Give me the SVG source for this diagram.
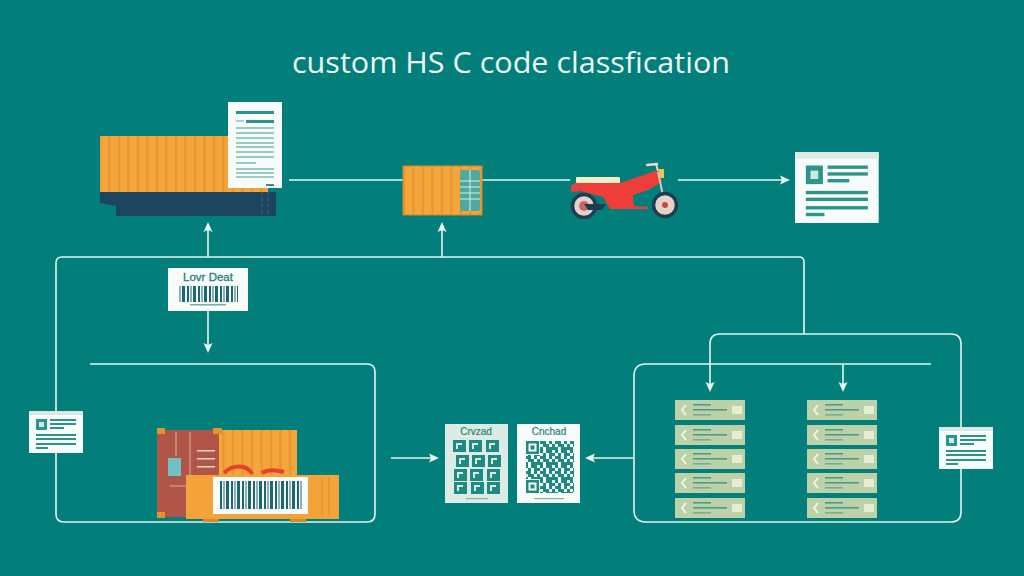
<svg xmlns="http://www.w3.org/2000/svg" width="1024" height="576" viewBox="0 0 1024 576">
<style>
.ln{fill:none;stroke:#e4f5f1;stroke-width:1.6}
.ar{fill:#e4f5f1}
.teal{fill:#2c9488}
.pale{fill:#a8d5cb}
.paper{fill:#f7fbfa}
.ttl{font-family:"Open Sans","Liberation Sans",sans-serif;font-size:30px;fill:#eef8f5}
.sm{font-family:"Liberation Sans",sans-serif;fill:#2a7f78}
.qr{fill:#1f8a82}
.corner{fill:#e2922c}
</style>
<defs>
<pattern id="ribs" width="9.500" height="10" patternUnits="userSpaceOnUse"><rect width="9.500" height="10" fill="#f5a53a"/><rect x="4" width="2" height="10" fill="#e39530"/></pattern>
<pattern id="bars" width="11" height="10" patternUnits="userSpaceOnUse"><rect x="0" width="2" height="10" fill="#1f6673"/><rect x="3.500" width="1" height="10" fill="#1f6673"/><rect x="6" width="3" height="10" fill="#1f6673"/></pattern>
<pattern id="noise" width="15" height="15" patternUnits="userSpaceOnUse">
<path class="qr" d="M0 0h3v3H0zM6 0h6v3H6zM3 3h3v3H3zM9 3h3v3H9zM12 3h3v3h-3zM0 6h6v3H0zM9 6h3v3H9zM3 9h3v3H3zM6 9h3v3H6zM12 9h3v3h-3zM0 12h3v3H0zM6 12h3v3H6zM9 12h6v3H9z"/>
</pattern>
<g id="row">
<rect width="70" height="20" fill="#bdd1a9"/>
<path d="M11 5L7 10L11 15" fill="none" stroke="#eef5e4" stroke-width="2"/>
<rect x="18" y="4" width="18" height="1.600" fill="#4c9c8c"/><rect x="18" y="9" width="34" height="1.600" fill="#4c9c8c"/><rect x="18" y="14" width="18" height="1.600" fill="#77ad99"/>
<rect x="57" y="6" width="10" height="8" fill="#e6edd2"/>
</g>
<g id="win">
<rect width="54" height="42" class="paper"/><rect width="54" height="4" fill="#dfe9e3"/>
<rect x="7" y="8" width="11" height="11" class="teal"/><rect x="10" y="11" width="5" height="5" fill="#cfe8e2"/>
<rect x="21" y="8" width="26" height="2" class="teal"/><rect x="21" y="12" width="26" height="2" class="teal"/><rect x="21" y="16" width="14" height="2" class="teal"/>
<rect x="7" y="23" width="40" height="2" class="teal"/><rect x="7" y="27" width="40" height="2" class="teal"/><rect x="7" y="32" width="40" height="2" class="teal"/><rect x="7" y="36" width="12" height="2" class="teal"/>
</g>
<g id="finder">
<rect x="-1" y="-1" width="15" height="15" fill="#f7fbfa"/>
<rect width="13" height="13" class="qr"/><rect x="2.500" y="2.500" width="8" height="8" fill="#f7fbfa"/><rect x="4.500" y="4.500" width="4" height="4" class="qr"/>
</g>
<g id="tile">
<rect width="13" height="12" class="qr"/><path d="M3 3H9V5H5V9H3Z" fill="#dcebe4"/>
</g>
</defs>
<rect width="1024" height="576" fill="#037f7b"/>
<text class="ttl" x="511" y="73" text-anchor="middle" textLength="438" lengthAdjust="spacingAndGlyphs">custom HS C code classfication</text>

<g id="connectors">
<path class="ln" d="M289 180H403M482 180H570M678 180H782"/>
<path class="ar" d="M790 180L780 175.500L782 180L780 184.500Z"/>
<path class="ln" d="M804 334V262Q804 257 799 257H62Q56 257 56 263V514Q56 522 64 522H367Q375 522 375 514V372Q375 364 367 364H90"/>
<path class="ln" d="M208 257V228M442 257V228M208 311V347"/>
<path class="ar" d="M208 222L203.500 232L208 230L212.500 232Z"/>
<path class="ar" d="M442 222L437.500 232L442 230L446.500 232Z"/>
<path class="ar" d="M208 353L203.500 343L208 345L212.500 343Z"/>
<path class="ln" d="M710 386V344Q710 334 720 334H951Q961 334 961 344V512Q961 522 951 522H646Q634 522 634 510V376Q634 364 646 364H931"/>
<path class="ln" d="M843 364V386"/>
<path class="ar" d="M710 392L705.500 382L710 384L714.500 382Z"/>
<path class="ar" d="M843 392L838.500 382L843 384L847.500 382Z"/>
<path class="ln" d="M391 458H433M633 458H591"/>
<path class="ar" d="M439 458L429 453.500L431 458L429 462.500Z"/>
<path class="ar" d="M585 458L595 453.500L593 458L595 462.500Z"/>
</g>

<g id="ship">
<path d="M100 192H276V216H116V206L100 203Z" fill="#1d4560"/>
<path d="M262 192V214M268 192V214" stroke="#3c6a78" stroke-width="1" stroke-dasharray="3 3"/>
<rect x="100" y="136" width="168" height="56" fill="url(#ribs)"/>
<rect x="228" y="102" width="54" height="86" class="paper"/>
<rect x="236" y="111" width="38" height="3" class="teal"/>
<rect x="246" y="120" width="28" height="3" class="teal"/><rect x="236" y="120" width="8" height="2" class="pale"/>
<path d="M236 128H274M236 133H274M236 138H274M236 143H274M236 147H274M236 152H274M236 157H274M236 163H256M236 169H274M236 173H274M236 177H274" stroke="#7bbcb1" stroke-width="1.500"/>
<rect x="266" y="184" width="8" height="2" class="teal"/>
</g>

<g id="container">
<rect x="403" y="166" width="79" height="49" fill="url(#ribs)" stroke="#d8892a" stroke-width="1"/>
<rect x="460" y="170" width="20" height="41" rx="3" fill="#4fa9a0"/>
<path d="M470 170V211M460 181H480M460 187H480M460 193H480M460 199H480" stroke="#d7efe6" stroke-width="1"/>
</g>

<g id="motorcycle">
<rect x="576" y="177" width="44" height="6" rx="1" fill="#f3eec6"/>
<path d="M571 186L575 183H620L658 170L662 182L648 190L633 195L634 206L648 207V209L610 209L603 197L580 191L571 192Z" fill="#ee3e3a"/>
<path d="M647 165L657 164" stroke="#e8dfc8" stroke-width="2.500" stroke-linecap="round"/>
<path d="M656 164L658 171" stroke="#e8dfc8" stroke-width="2"/>
<rect x="659" y="169" width="5" height="9" fill="#f3c04a"/>
<path d="M658 172L665 205" stroke="#c8c8c8" stroke-width="2"/>
<circle cx="584" cy="206" r="11.500" fill="#e5d2c8" stroke="#1d3d50" stroke-width="3.500"/>
<circle cx="584" cy="206" r="5" fill="#c8686a"/>
<path d="M584 204H606L602 210H588Z" fill="#1d3d50"/>
<circle cx="665" cy="205" r="11.500" fill="#e5d2c8" stroke="#1d3d50" stroke-width="3.500"/>
<circle cx="665" cy="205" r="3" fill="#c8484a"/>
</g>

<g id="document">
<use href="#win" transform="translate(795 152) scale(1.550 1.690)"/>
</g>

<g id="barcode-label">
<rect x="168" y="268" width="80" height="43" class="paper"/>
<text class="sm" x="208" y="281" text-anchor="middle" font-size="11.500" stroke="#2a7f78" stroke-width="0.300">Lovr Deat</text>
<rect x="178" y="286" width="60" height="16" fill="url(#bars)"/>
<rect x="190" y="304" width="36" height="1.500" fill="#79aca6"/>
</g>

<g id="doc-left"><use href="#win" x="29" y="411"/></g>
<g id="doc-right"><use href="#win" x="939" y="427"/></g>

<g id="containers">
<rect x="157" y="430" width="70" height="87" fill="#b05548"/>
<rect x="168" y="458" width="13" height="18" fill="#73c0c0"/>
<path d="M176 432V456M190 432V500M170 486H186" stroke="#d5b0a0" stroke-width="1"/>
<rect x="197" y="450" width="18" height="1.500" fill="#e8d6c4"/><rect x="197" y="458" width="18" height="1.500" fill="#e8d6c4"/><rect x="197" y="466" width="18" height="1.500" fill="#e8d6c4"/>
<rect x="219" y="430" width="78" height="45" fill="url(#ribs)"/>
<rect class="corner" x="157" y="428" width="8" height="6"/><rect class="corner" x="213" y="428" width="9" height="6"/><rect class="corner" x="157" y="512" width="8" height="6"/>
<path d="M224 473Q232 465 243 467Q250 469 252 474M262 473Q270 468 284 472" fill="none" stroke="#e8402f" stroke-width="4"/>
<rect x="186" y="475" width="153" height="44" fill="#f3a33a"/>
<rect x="203" y="519" width="16" height="3" fill="#d8892a"/><rect x="290" y="519" width="16" height="3" fill="#d8892a"/>
<rect x="213" y="477" width="95" height="37" class="paper"/>
<rect x="220" y="481" width="82" height="28" fill="url(#bars)"/>
<path d="M322 478V516M329 478V516" stroke="#e39530" stroke-width="1.500"/>
</g>

<g id="qr-cards">
<rect x="445" y="424" width="63" height="79" fill="#dcebe4"/>
<text class="sm" x="476" y="435" text-anchor="middle" font-size="10" stroke="#2a7f78" stroke-width="0.200">Crvzad</text>
<use href="#tile" x="453" y="440"/><use href="#tile" x="469" y="440"/><use href="#tile" x="486" y="440"/>
<use href="#tile" x="456" y="455"/><use href="#tile" x="472" y="455"/><use href="#tile" x="488" y="455"/>
<use href="#tile" x="454" y="469"/><use href="#tile" x="470" y="469"/><use href="#tile" x="487" y="469"/>
<use href="#tile" x="454" y="482"/><use href="#tile" x="471" y="482"/><use href="#tile" x="487" y="482"/>
<rect x="466" y="498" width="22" height="1.200" fill="#7fb5ab"/>
<rect x="517" y="424" width="63" height="79" class="paper"/>
<text class="sm" x="549" y="435" text-anchor="middle" font-size="10" stroke="#2a7f78" stroke-width="0.200">Cnchad</text>
<rect x="526" y="441" width="48" height="52" fill="url(#noise)"/>
<use href="#finder" x="526" y="441"/><use href="#finder" x="526" y="480"/>
<rect x="534" y="498" width="30" height="1.200" fill="#7fb5ab"/>
</g>

<g id="list-left">
<use href="#row" x="675" y="400"/><use href="#row" x="675" y="425"/><use href="#row" x="675" y="449"/><use href="#row" x="675" y="473"/><use href="#row" x="675" y="498"/>
</g>
<g id="list-right">
<use href="#row" x="807" y="400"/><use href="#row" x="807" y="425"/><use href="#row" x="807" y="449"/><use href="#row" x="807" y="473"/><use href="#row" x="807" y="498"/>
</g>
</svg>
